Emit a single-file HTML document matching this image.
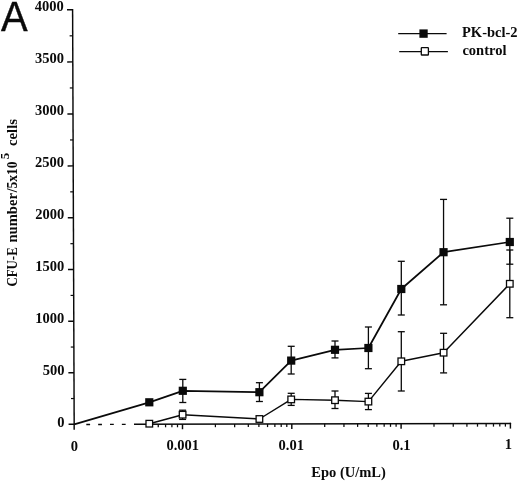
<!DOCTYPE html><html><head><meta charset="utf-8"><title>Figure A</title>
<style>html,body{margin:0;padding:0;background:#fff}svg{display:block}text{font-family:"Liberation Serif",serif;font-weight:bold;fill:#0a0a0a}.a{font-family:"Liberation Sans",sans-serif;font-weight:normal}</style></head><body>
<svg width="520" height="484" viewBox="0 0 520 484">
<rect width="520" height="484" fill="#fff"/>
<g stroke="#0a0a0a" stroke-width="1.45" fill="none">
<line x1="72.60" y1="9.05" x2="74.20" y2="429.7"/>
<line x1="68.58" y1="424.32" x2="74.18" y2="424.30"/>
<line x1="70.98" y1="398.55" x2="74.08" y2="398.55" stroke-width="1.2"/>
<line x1="68.38" y1="372.82" x2="73.98" y2="372.80"/>
<line x1="70.78" y1="347.05" x2="73.88" y2="347.05" stroke-width="1.2"/>
<line x1="68.19" y1="321.32" x2="73.79" y2="321.30"/>
<line x1="70.59" y1="295.43" x2="73.69" y2="295.43" stroke-width="1.2"/>
<line x1="67.99" y1="269.57" x2="73.59" y2="269.55"/>
<line x1="70.39" y1="243.68" x2="73.49" y2="243.68" stroke-width="1.2"/>
<line x1="67.79" y1="217.82" x2="73.39" y2="217.80"/>
<line x1="70.19" y1="191.85" x2="73.29" y2="191.85" stroke-width="1.2"/>
<line x1="67.60" y1="165.92" x2="73.20" y2="165.90"/>
<line x1="70.00" y1="139.95" x2="73.10" y2="139.95" stroke-width="1.2"/>
<line x1="67.40" y1="114.02" x2="73.00" y2="114.00"/>
<line x1="69.80" y1="87.95" x2="72.90" y2="87.95" stroke-width="1.2"/>
<line x1="67.20" y1="61.92" x2="72.80" y2="61.90"/>
<line x1="69.60" y1="35.83" x2="72.70" y2="35.83" stroke-width="1.2"/>
<line x1="67.00" y1="9.77" x2="72.60" y2="9.75"/>
<line x1="134" y1="424.25" x2="511.1" y2="423.50"/>
<line x1="86.3" y1="424.45" x2="131" y2="424.35" stroke-dasharray="3.8 8.05"/>
<line x1="158.25" y1="424.20" x2="158.25" y2="427.30" stroke-width="1.25"/>
<line x1="165.57" y1="424.19" x2="165.57" y2="427.29" stroke-width="1.25"/>
<line x1="171.91" y1="424.17" x2="171.91" y2="427.27" stroke-width="1.25"/>
<line x1="177.50" y1="424.16" x2="177.50" y2="427.26" stroke-width="1.25"/>
<line x1="182.50" y1="424.15" x2="182.50" y2="429.25"/>
<line x1="215.40" y1="424.09" x2="215.40" y2="427.19" stroke-width="1.25"/>
<line x1="234.65" y1="424.05" x2="234.65" y2="427.15" stroke-width="1.25"/>
<line x1="248.31" y1="424.02" x2="248.31" y2="427.12" stroke-width="1.25"/>
<line x1="258.90" y1="424.00" x2="258.90" y2="427.10" stroke-width="1.25"/>
<line x1="267.55" y1="423.98" x2="267.55" y2="427.08" stroke-width="1.25"/>
<line x1="274.87" y1="423.97" x2="274.87" y2="427.07" stroke-width="1.25"/>
<line x1="281.21" y1="423.96" x2="281.21" y2="427.06" stroke-width="1.25"/>
<line x1="286.80" y1="423.95" x2="286.80" y2="427.05" stroke-width="1.25"/>
<line x1="291.80" y1="423.94" x2="291.80" y2="429.04"/>
<line x1="324.70" y1="423.87" x2="324.70" y2="426.97" stroke-width="1.25"/>
<line x1="343.95" y1="423.83" x2="343.95" y2="426.93" stroke-width="1.25"/>
<line x1="357.61" y1="423.81" x2="357.61" y2="426.91" stroke-width="1.25"/>
<line x1="368.20" y1="423.78" x2="368.20" y2="426.88" stroke-width="1.25"/>
<line x1="376.85" y1="423.77" x2="376.85" y2="426.87" stroke-width="1.25"/>
<line x1="384.17" y1="423.75" x2="384.17" y2="426.85" stroke-width="1.25"/>
<line x1="390.51" y1="423.74" x2="390.51" y2="426.84" stroke-width="1.25"/>
<line x1="396.10" y1="423.73" x2="396.10" y2="426.83" stroke-width="1.25"/>
<line x1="401.10" y1="423.72" x2="401.10" y2="428.82"/>
<line x1="434.00" y1="423.65" x2="434.00" y2="426.75" stroke-width="1.25"/>
<line x1="453.25" y1="423.61" x2="453.25" y2="426.71" stroke-width="1.25"/>
<line x1="466.91" y1="423.59" x2="466.91" y2="426.69" stroke-width="1.25"/>
<line x1="477.50" y1="423.57" x2="477.50" y2="426.67" stroke-width="1.25"/>
<line x1="486.15" y1="423.55" x2="486.15" y2="426.65" stroke-width="1.25"/>
<line x1="493.47" y1="423.53" x2="493.47" y2="426.63" stroke-width="1.25"/>
<line x1="499.81" y1="423.52" x2="499.81" y2="426.62" stroke-width="1.25"/>
<line x1="505.40" y1="423.51" x2="505.40" y2="426.61" stroke-width="1.25"/>
<line x1="510.40" y1="422.80" x2="510.40" y2="428.60"/>
</g>
<text x="63.80" y="11.20" font-size="14.5" text-anchor="end">4000</text>
<text x="63.89" y="63.16" font-size="14.5" text-anchor="end">3500</text>
<text x="63.97" y="115.12" font-size="14.5" text-anchor="end">3000</text>
<text x="64.06" y="167.08" font-size="14.5" text-anchor="end">2500</text>
<text x="64.15" y="219.04" font-size="14.5" text-anchor="end">2000</text>
<text x="64.24" y="271.00" font-size="14.5" text-anchor="end">1500</text>
<text x="64.33" y="322.96" font-size="14.5" text-anchor="end">1000</text>
<text x="64.41" y="374.92" font-size="14.5" text-anchor="end">500</text>
<text x="64.50" y="426.88" font-size="14.5" text-anchor="end">0</text>
<text x="74.35" y="450.7" font-size="14.5" text-anchor="middle">0</text>
<text x="182.8" y="450.4" font-size="14.5" text-anchor="middle">0.001</text>
<text x="291.2" y="450.0" font-size="14.5" text-anchor="middle">0.01</text>
<text x="401.5" y="449.6" font-size="14.5" text-anchor="middle">0.1</text>
<text x="508.4" y="448.8" font-size="14.5" text-anchor="middle">1</text>
<text x="348.6" y="477.0" font-size="14.5" text-anchor="middle">Epo (U/mL)</text>
<g transform="translate(16.7,286.5) rotate(-90)" font-size="14.5">
<text x="0" y="0" textLength="39.2" lengthAdjust="spacingAndGlyphs">CFU-E</text>
<text x="43.9" y="0" textLength="49.6" lengthAdjust="spacingAndGlyphs">number</text>
<text x="94.2" y="0" textLength="30.9" lengthAdjust="spacingAndGlyphs">/5x10</text>
<text x="127.2" y="-7.5" font-size="11.5" textLength="6.4" lengthAdjust="spacingAndGlyphs">5</text>
<text x="140.5" y="0" textLength="27" lengthAdjust="spacingAndGlyphs">cells</text>
</g>
<text class="a" transform="translate(1.1,31.45) scale(0.93,1)" font-size="43" stroke="#0a0a0a" stroke-width="0.4">A</text>
<g stroke="#0a0a0a" stroke-width="1.35"><line x1="398.2" y1="33.55" x2="446.6" y2="33.55"/><line x1="399.2" y1="51.65" x2="447.9" y2="51.65"/></g>
<rect x="419.4" y="29.4" width="8.3" height="8.4" fill="#0a0a0a"/>
<rect x="421.3" y="47.7" width="7.1" height="7.3" rx="0.6" fill="#fff" stroke="#0a0a0a" stroke-width="1.3"/>
<text x="462" y="37.3" font-size="14.5">PK-bcl-2</text>
<text x="462.4" y="54.6" font-size="14.5">control</text>
<polyline fill="none" stroke="#0a0a0a" stroke-width="1.45" stroke-linejoin="round" points="149.3,423.7 182.6,414.7 259.4,419 291.2,399.4 335,400.2 368.4,401.6 401.3,361.3 443.6,352.7 509.8,283.8"/>
<g stroke="#0a0a0a" stroke-width="1.3">
<line x1="182.6" y1="410.2" x2="182.6" y2="419.4"/><line x1="179.1" y1="410.2" x2="186.1" y2="410.2"/><line x1="179.1" y1="419.4" x2="186.1" y2="419.4"/>
<line x1="291.2" y1="393.3" x2="291.2" y2="405.4"/><line x1="287.7" y1="393.3" x2="294.7" y2="393.3"/><line x1="287.7" y1="405.4" x2="294.7" y2="405.4"/>
<line x1="335" y1="391" x2="335" y2="408.5"/><line x1="331.5" y1="391" x2="338.5" y2="391"/><line x1="331.5" y1="408.5" x2="338.5" y2="408.5"/>
<line x1="368.4" y1="393.4" x2="368.4" y2="409.6"/><line x1="364.9" y1="393.4" x2="371.9" y2="393.4"/><line x1="364.9" y1="409.6" x2="371.9" y2="409.6"/>
<line x1="401.3" y1="331.7" x2="401.3" y2="391"/><line x1="397.8" y1="331.7" x2="404.8" y2="331.7"/><line x1="397.8" y1="391" x2="404.8" y2="391"/>
<line x1="443.6" y1="333.3" x2="443.6" y2="372.9"/><line x1="440.1" y1="333.3" x2="447.1" y2="333.3"/><line x1="440.1" y1="372.9" x2="447.1" y2="372.9"/>
<line x1="509.8" y1="250" x2="509.8" y2="317.7"/><line x1="506.3" y1="250" x2="513.3" y2="250"/><line x1="506.3" y1="317.7" x2="513.3" y2="317.7"/>
</g>
<rect x="146.00" y="420.40" width="6.6" height="6.6" fill="#fff" stroke="#0a0a0a" stroke-width="1.3"/>
<rect x="179.30" y="411.40" width="6.6" height="6.6" fill="#fff" stroke="#0a0a0a" stroke-width="1.3"/>
<rect x="256.10" y="415.70" width="6.6" height="6.6" fill="#fff" stroke="#0a0a0a" stroke-width="1.3"/>
<rect x="287.90" y="396.10" width="6.6" height="6.6" fill="#fff" stroke="#0a0a0a" stroke-width="1.3"/>
<rect x="331.70" y="396.90" width="6.6" height="6.6" fill="#fff" stroke="#0a0a0a" stroke-width="1.3"/>
<rect x="365.10" y="398.30" width="6.6" height="6.6" fill="#fff" stroke="#0a0a0a" stroke-width="1.3"/>
<rect x="398.00" y="358.00" width="6.6" height="6.6" fill="#fff" stroke="#0a0a0a" stroke-width="1.3"/>
<rect x="440.30" y="349.40" width="6.6" height="6.6" fill="#fff" stroke="#0a0a0a" stroke-width="1.3"/>
<rect x="506.50" y="280.50" width="6.6" height="6.6" fill="#fff" stroke="#0a0a0a" stroke-width="1.3"/>
<polyline fill="none" stroke="#0a0a0a" stroke-width="1.75" stroke-linejoin="round" points="74.2,424.3 149.3,402.3 182.8,390.8 259.4,392.2 291.2,360.6 335,349.8 368.4,348 401.3,289 443.55,252.2 509.8,242"/>
<g stroke="#0a0a0a" stroke-width="1.3">
<line x1="182.8" y1="379.4" x2="182.8" y2="402.5"/><line x1="179.3" y1="379.4" x2="186.3" y2="379.4"/><line x1="179.3" y1="402.5" x2="186.3" y2="402.5"/>
<line x1="259.4" y1="382.7" x2="259.4" y2="401.5"/><line x1="255.89999999999998" y1="382.7" x2="262.9" y2="382.7"/><line x1="255.89999999999998" y1="401.5" x2="262.9" y2="401.5"/>
<line x1="291.2" y1="346.3" x2="291.2" y2="374"/><line x1="287.7" y1="346.3" x2="294.7" y2="346.3"/><line x1="287.7" y1="374" x2="294.7" y2="374"/>
<line x1="335" y1="341" x2="335" y2="357.9"/><line x1="331.5" y1="341" x2="338.5" y2="341"/><line x1="331.5" y1="357.9" x2="338.5" y2="357.9"/>
<line x1="368.4" y1="327" x2="368.4" y2="368.7"/><line x1="364.9" y1="327" x2="371.9" y2="327"/><line x1="364.9" y1="368.7" x2="371.9" y2="368.7"/>
<line x1="401.3" y1="261.3" x2="401.3" y2="315"/><line x1="397.8" y1="261.3" x2="404.8" y2="261.3"/><line x1="397.8" y1="315" x2="404.8" y2="315"/>
<line x1="443.55" y1="199.4" x2="443.55" y2="304.8"/><line x1="440.05" y1="199.4" x2="447.05" y2="199.4"/><line x1="440.05" y1="304.8" x2="447.05" y2="304.8"/>
<line x1="509.8" y1="218.2" x2="509.8" y2="264.2"/><line x1="506.3" y1="218.2" x2="513.3" y2="218.2"/><line x1="506.3" y1="264.2" x2="513.3" y2="264.2"/>
</g>
<rect x="145.20" y="398.20" width="8.2" height="8.2" fill="#0a0a0a"/>
<rect x="178.70" y="386.70" width="8.2" height="8.2" fill="#0a0a0a"/>
<rect x="255.30" y="388.10" width="8.2" height="8.2" fill="#0a0a0a"/>
<rect x="287.10" y="356.50" width="8.2" height="8.2" fill="#0a0a0a"/>
<rect x="330.90" y="345.70" width="8.2" height="8.2" fill="#0a0a0a"/>
<rect x="364.30" y="343.90" width="8.2" height="8.2" fill="#0a0a0a"/>
<rect x="397.20" y="284.90" width="8.2" height="8.2" fill="#0a0a0a"/>
<rect x="439.45" y="248.10" width="8.2" height="8.2" fill="#0a0a0a"/>
<rect x="505.70" y="237.90" width="8.2" height="8.2" fill="#0a0a0a"/>
</svg></body></html>
